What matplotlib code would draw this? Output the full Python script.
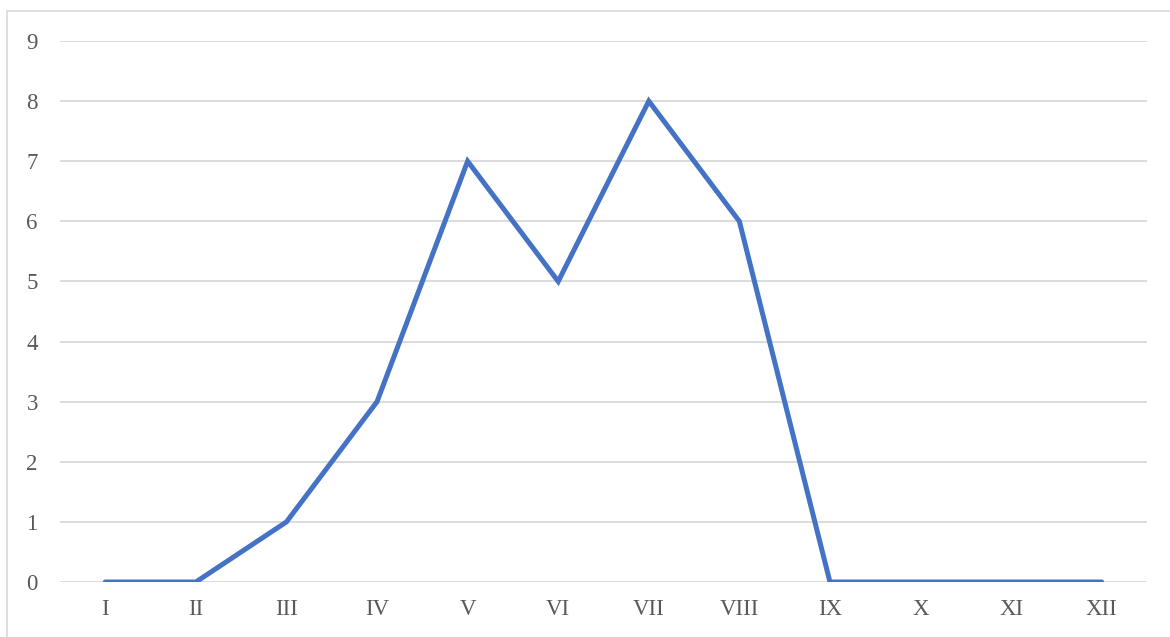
import matplotlib
matplotlib.use("Agg")
import matplotlib.pyplot as plt
from matplotlib.patches import Rectangle

months = ["I", "II", "III", "IV", "V", "VI", "VII", "VIII", "IX", "X", "XI", "XII"]
counts = [0, 0, 1, 3, 7, 5, 8, 6, 0, 0, 0, 0]
y_ticks = list(range(0, 10))

plt.rcParams["font.family"] = ["Liberation Serif", "DejaVu Serif"]

fig = plt.figure(figsize=(11.70, 6.37), dpi=100)
fig.patch.set_facecolor("white")

# chart-area frame, running off the right and bottom edges
fig.patches.append(Rectangle((7 / 1170, -0.05), 1.1, 1 - 11 / 637 + 0.05,
                             transform=fig.transFigure, fill=False,
                             edgecolor="#D9D9D9", linewidth=1.2, zorder=0))

ax = fig.add_axes([60 / 1170, 55 / 637, 1087 / 1170, 541 / 637])
x = list(range(len(months)))
ax.plot(x, counts, color="#4472C4", linewidth=3.6, solid_capstyle="round",
        solid_joinstyle="miter", zorder=3)

ax.set_xlim(-0.5, len(months) - 0.5)
ax.set_ylim(0, 9)
ax.set_yticks(y_ticks)
ax.set_xticks(x)
ax.set_xticklabels(months)
ax.grid(axis="y", color="#D9D9D9", linewidth=1.3)
ax.set_axisbelow(True)
for s in ax.spines.values():
    s.set_visible(False)
ax.tick_params(length=0, labelsize=16.5, colors="#595959")
ax.tick_params(axis="y", pad=16)
ax.tick_params(axis="x", pad=12)

fig.savefig("out.png", dpi=100)
